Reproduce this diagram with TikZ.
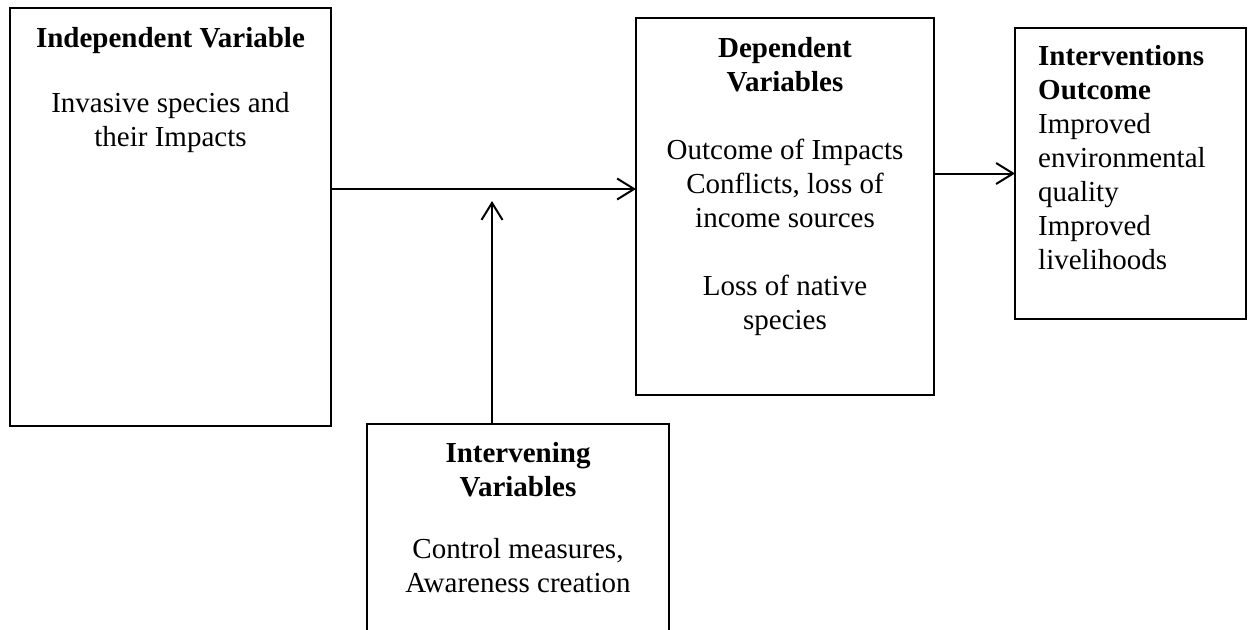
\documentclass[tikz,border=0pt]{standalone}
\usepackage{fontspec}
\setmainfont{Liberation Serif}
\usetikzlibrary{arrows.meta,positioning}
\tikzset{
  varbox/.style={draw, line width=1.3pt, inner sep=0pt, outer sep=0pt},
  vartext/.style={inner sep=0pt, anchor=north, font=\fontsize{29}{34}\selectfont},
  flow/.style={->, line width=2pt},
}

\begin{document}
\begin{tikzpicture}[x=1pt, y=-1pt, >={Straight Barb[length=17pt,width=21pt]}]

  \clip (0,0) rectangle (1255,629);

  %% boxes
  \node[varbox, minimum width=321pt, minimum height=418pt] (indep) at (170.5,217) {};
  \node[varbox, minimum width=298pt, minimum height=377pt] (dep) at (785,206.5) {};
  \node[varbox, minimum width=231pt, minimum height=291pt] (outc) at (1130.5,173.5) {};
  \node[varbox, minimum width=302pt, minimum height=240pt] (interv) at (518,544) {}; % open at the bottom

  %% texts
  \node[vartext, align=center] (indeptxt) at (170.5,27)
    {\textbf{Independent Variable}\\[31pt] Invasive species and\\ their Impacts};
  \node[vartext, align=center] (deptxt) at (785,37)
    {\textbf{Dependent}\\ \textbf{Variables}\\[34pt] Outcome of Impacts\\ Conflicts, loss of\\ income sources\\[34pt] Loss of native\\ species};
  \node[vartext, anchor=north west, align=left] (outctxt) at (1038,45)
    {\textbf{Interventions}\\ \textbf{Outcome}\\ Improved\\ environmental\\ quality\\ Improved\\ livelihoods};
  \node[vartext, align=center] (intervtxt) at (518,442)
    {\textbf{Intervening}\\ \textbf{Variables}\\[28pt] Control measures,\\ Awareness creation};

  %% connectors
  \coordinate (mid) at (492,189);
  \coordinate (tip) at (492,201);
  \draw[flow] (indep.east |- mid) -- (dep.west |- mid); % indep -> dep
  \draw[flow] (interv.north -| tip) -- (tip);            % interv -> line
  \draw[flow] (dep.east |- outc.west) -- (outc.west);    % dep -> outcome

\end{tikzpicture}
\end{document}
